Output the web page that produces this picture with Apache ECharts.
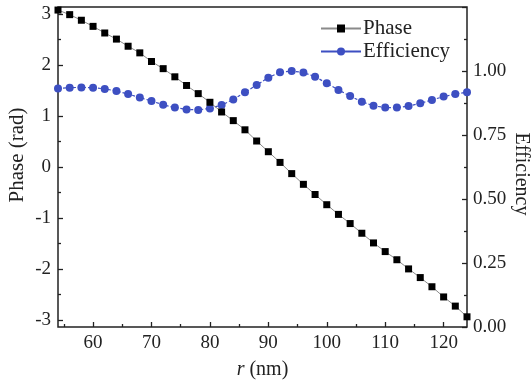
<!DOCTYPE html>
<html>
<head>
<meta charset="utf-8">
<script src="https://cdn.jsdelivr.net/npm/echarts@6/dist/echarts.min.js"></script>
<style>
  html, body { margin: 0; padding: 0; background: #fff; }
  #chart { width: 531px; height: 381px; }
</style>
</head>
<body>
<div id="chart"></div>
<script>
// Ring radius r (nm) of each simulated unit cell
const rValues = [54, 56, 58, 60, 62, 64, 66, 68, 70, 72, 74, 76, 78, 80, 82, 84, 86, 88,
                 90, 92, 94, 96, 98, 100, 102, 104, 106, 108, 110, 112, 114, 116, 118, 120, 122, 124];
// Transmitted phase (rad)
const phaseValues = [3.08, 2.99, 2.88, 2.76, 2.63, 2.51, 2.37, 2.24, 2.07, 1.93, 1.77, 1.60,
                     1.44, 1.27, 1.08, 0.91, 0.73, 0.51, 0.30, 0.09, -0.13, -0.34, -0.54, -0.74,
                     -0.93, -1.11, -1.30, -1.49, -1.66, -1.82, -2.00, -2.17, -2.35, -2.55, -2.73, -2.94];
// Transmission efficiency
const efficiencyValues = [0.932, 0.935, 0.936, 0.935, 0.930, 0.922, 0.910, 0.896, 0.883, 0.868,
                          0.857, 0.850, 0.848, 0.854, 0.867, 0.889, 0.917, 0.945, 0.974, 0.995,
                          1.000, 0.994, 0.978, 0.952, 0.926, 0.902, 0.880, 0.864, 0.857, 0.857,
                          0.863, 0.874, 0.887, 0.900, 0.910, 0.917];
// Axis ticks
const xMajorTicks = [60, 70, 80, 90, 100, 110, 120];
const xMinorTicks = [55, 65, 75, 85, 95, 105, 115];
const phaseMajorTicks = [-3, -2, -1, 0, 1, 2, 3];
const phaseMinorTicks = [-2.5, -1.5, -0.5, 0.5, 1.5, 2.5];

const FONT = '"Liberation Serif", "Times New Roman", serif';
const TXT = '#222';
const TICK = { color: '#222', width: 1.3 };

const chart = echarts.init(document.getElementById('chart'));

const phaseData = rValues.map((r, i) => [r, phaseValues[i]]);
const effData = rValues.map((r, i) => [r, efficiencyValues[i]]);

chart.setOption({
  animation: false,
  grid: { left: 58, right: 64, top: 7, bottom: 54, show: true,
          outerBoundsMode: 'none', containLabel: false,
          borderColor: '#222', borderWidth: 1.5, backgroundColor: 'transparent' },
  legend: {
    orient: 'vertical',
    left: 315, top: 13,
    itemWidth: 40, itemHeight: 10, itemGap: 2,
    lineStyle: { type: 'solid' },
    textStyle: { fontFamily: FONT, fontSize: 21, color: TXT, lineHeight: 21, padding: [0, 0, 0, -3] },
    data: ['Phase', 'Efficiency']
  },
  xAxis: [{
    type: 'value', min: 54, max: 124, position: 'bottom',
    name: '{i|r} (nm)', nameLocation: 'middle', nameGap: 33, nameMoveOverlap: false,
    nameTextStyle: { fontFamily: FONT, fontSize: 20, color: TXT,
                     rich: { i: { fontFamily: FONT, fontSize: 20, fontStyle: 'italic', color: TXT } } },
    axisLine: { show: false, onZero: false },
    axisTick: { inside: true, length: 5, lineStyle: TICK, customValues: xMajorTicks },
    axisLabel: { fontFamily: FONT, fontSize: 19, color: TXT, margin: 7, customValues: xMajorTicks },
    splitLine: { show: false }
  }, {
    type: 'value', min: 54, max: 124, position: 'bottom',
    axisLine: { show: false, onZero: false },
    axisTick: { inside: true, length: 3, lineStyle: TICK, customValues: xMinorTicks },
    axisLabel: { show: false },
    splitLine: { show: false }
  }],
  yAxis: [{
    type: 'value', min: -3.14, max: 3.14, position: 'left',
    name: 'Phase (rad)', nameLocation: 'middle', nameGap: 30, nameRotate: 90, nameMoveOverlap: false,
    nameTextStyle: { fontFamily: FONT, fontSize: 21, color: TXT, padding: [0, 0, 0, 24] },
    axisLine: { show: false, onZero: false },
    axisTick: { inside: true, length: 5, lineStyle: TICK, customValues: phaseMajorTicks },
    axisLabel: { fontFamily: FONT, fontSize: 19, color: TXT, margin: 7, customValues: phaseMajorTicks },
    splitLine: { show: false }
  }, {
    type: 'value', min: 0, max: 1.25, interval: 0.25, position: 'right',
    name: 'Efficiency', nameLocation: 'middle', nameGap: 44, nameRotate: -90, nameMoveOverlap: false,
    nameTextStyle: { fontFamily: FONT, fontSize: 20, color: TXT, padding: [0, 0, 0, 14] },
    axisLine: { show: false, onZero: false },
    axisTick: { show: true, inside: true, length: 5, lineStyle: TICK },
    minorTick: { show: true, splitNumber: 2, length: 3, lineStyle: TICK },
    axisLabel: { fontFamily: FONT, fontSize: 19, color: TXT, margin: 6, showMaxLabel: false,
                 formatter: v => v.toFixed(2) },
    splitLine: { show: false }
  }, {
    type: 'value', min: -3.14, max: 3.14, position: 'left',
    axisLine: { show: false, onZero: false },
    axisTick: { inside: true, length: 3, lineStyle: TICK, customValues: phaseMinorTicks },
    axisLabel: { show: false },
    splitLine: { show: false }
  }],
  series: [{
    name: 'Phase', type: 'line', xAxisIndex: 0, yAxisIndex: 0,
    data: phaseData,
    symbol: 'rect', symbolSize: 7,
    itemStyle: { color: '#000' },
    lineStyle: { color: '#8a8a8a', width: 1 },
    z: 3
  }, {
    name: 'Efficiency', type: 'line', xAxisIndex: 0, yAxisIndex: 1,
    data: effData,
    symbol: 'circle', symbolSize: 8,
    itemStyle: { color: '#3d4fc2' },
    lineStyle: { color: '#3d4fc2', width: 1.2, type: [3, 2] },
    z: 2
  }]
});
</script>
</body>
</html>
